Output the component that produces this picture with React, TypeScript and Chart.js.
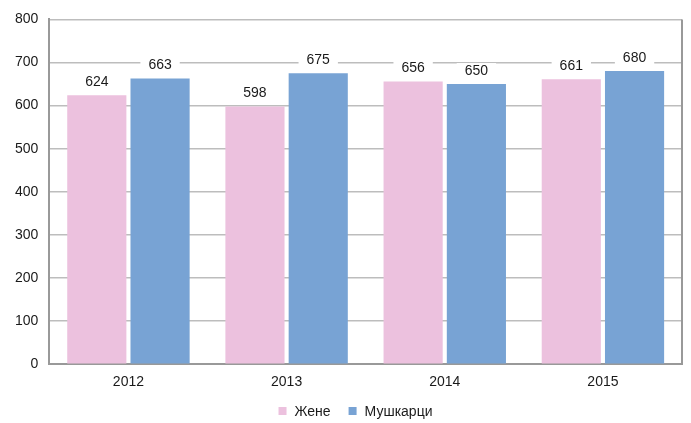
import React, { useEffect, useRef } from "react";
import { Chart, registerables } from "chart.js";

Chart.register(...registerables);

const categories = ["2012", "2013", "2014", "2015"];
const women = [624, 598, 656, 661];
const men = [663, 675, 650, 680];
const seriesNames = ["Жене", "Мушкарци"];
const seriesColors = ["#ecc1de", "#78a3d4"];
const yTicks = [0, 100, 200, 300, 400, 500, 600, 700, 800];

const FONT = "'Liberation Sans', Arial, sans-serif";

const labelPlugin = {
  id: "barLabels",
  afterDatasetsDraw(chart: any) {
    const ctx = chart.ctx;
    const area = chart.chartArea;
    ctx.save();
    // right border line
    ctx.strokeStyle = "#999999";
    ctx.lineWidth = 2;
    ctx.beginPath();
    ctx.moveTo(area.right, area.top);
    ctx.lineTo(area.right, area.bottom);
    ctx.stroke();
    ctx.font = `14px ${FONT}`;
    ctx.textAlign = "center";
    ctx.textBaseline = "middle";
    chart.data.datasets.forEach((ds: any, di: number) => {
      const meta = chart.getDatasetMeta(di);
      meta.data.forEach((el: any, i: number) => {
        const text = String(ds.data[i]);
        const w = ctx.measureText(text).width;
        const cy = el.y - 14;
        ctx.fillStyle = "#ffffff";
        ctx.fillRect(el.x - w / 2 - 8, cy - 7, w + 16, 14);
        ctx.fillStyle = "#1a1a1a";
        ctx.fillText(text, el.x, cy + 1);
      });
    });
    ctx.restore();
  },
  afterDraw(chart: any) {
    // legend
    const ctx = chart.ctx;
    ctx.save();
    ctx.font = `14px ${FONT}`;
    ctx.textBaseline = "middle";
    ctx.textAlign = "left";
    const box = 8;
    const gapBoxText = 8;
    const gapItems = 18;
    const widths = seriesNames.map((n) => box + gapBoxText + ctx.measureText(n).width);
    const total = widths.reduce((a, b) => a + b, 0) + gapItems * (widths.length - 1);
    let x = chart.width / 2 + 10 - total / 2;
    const cy = 411;
    seriesNames.forEach((n, i) => {
      ctx.fillStyle = seriesColors[i];
      ctx.fillRect(x, cy - box / 2, box, box);
      ctx.fillStyle = "#1a1a1a";
      ctx.fillText(n, x + box + gapBoxText, cy + 1);
      x += widths[i] + gapItems;
    });
    ctx.restore();
  },
};

export default function App() {
  const ref = useRef<HTMLCanvasElement>(null);
  useEffect(() => {
    document.body.style.margin = "0";
    const chart = new Chart(ref.current!, {
      type: "bar",
      data: {
        labels: categories,
        datasets: [
          {
            label: seriesNames[0],
            data: women,
            backgroundColor: seriesColors[0],
            categoryPercentage: 0.8,
            barPercentage: 0.935,
          },
          {
            label: seriesNames[1],
            data: men,
            backgroundColor: seriesColors[1],
            categoryPercentage: 0.8,
            barPercentage: 0.935,
          },
        ],
      },
      options: {
        animation: false,
        responsive: false,
        maintainAspectRatio: false,
        layout: { padding: { top: 0, right: 9, left: 4, bottom: 22 } },
        scales: {
          x: {
            grid: { display: false, drawTicks: false },
            border: { color: "#999999", width: 2 },
            ticks: { color: "#1a1a1a", font: { family: FONT, size: 14 }, padding: 10 },
          },
          y: {
            min: 0,
            max: 800,
            afterBuildTicks: (axis: any) => {
              axis.ticks = yTicks.map((v) => ({ value: v }));
            },
            grid: { color: "#bdbdbd", lineWidth: 1.5, drawTicks: false },
            border: { color: "#999999", width: 2 },
            ticks: { color: "#1a1a1a", font: { family: FONT, size: 14 }, padding: 11 },
          },
        },
        plugins: {
          legend: { display: false },
          tooltip: { enabled: false },
        },
      },
      plugins: [labelPlugin],
    } as any);
    return () => chart.destroy();
  }, []);
  return (
    <div style={{ width: 691, height: 423 }}>
      <canvas ref={ref} width={691} height={423} style={{ width: 691, height: 423 }} />
    </div>
  );
}
